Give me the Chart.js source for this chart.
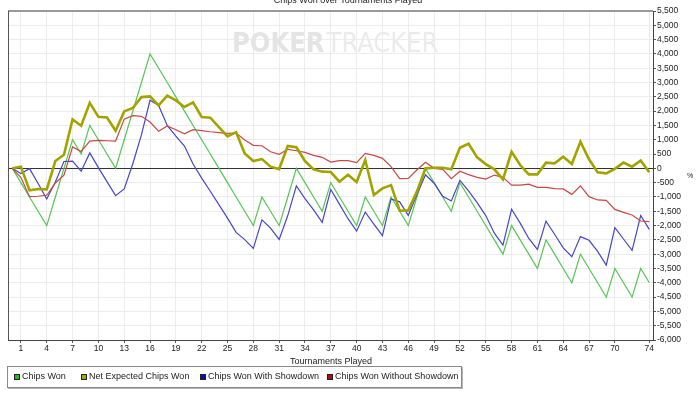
<!DOCTYPE html>
<html>
<head>
<meta charset="utf-8">
<script src="https://cdn.jsdelivr.net/npm/chart.js@4.4.1/dist/chart.umd.min.js"></script>
<style>
  body { margin: 0; background: #fff; }
  #wrap { position: relative; width: 700px; height: 393px; overflow: hidden; }
  #legend {
    position: absolute; left: 7px; top: 366px; width: 453px; height: 20px;
    border: 1px solid #8a8a8a; box-shadow: 1px 1px 0 #b5b5b5;
    font-family: "Liberation Sans", Arial, sans-serif;
    font-size: 9px; color: #222;
  }
  #legend .sw { position: absolute; top: 7px; width: 4px; height: 4px; border: 1px solid #222; }
  #legend .txt { position: absolute; top: 4px; white-space: nowrap; line-height: 11px; }
</style>
</head>
<body>
<div id="wrap">
  <canvas id="chart" width="700" height="393"></canvas>
  <div id="legend"></div>
</div>
<script>
// tournaments played (0 = start)
const tournaments = [0, 1, 2, 3, 4, 5, 6, 7, 8, 9, 10, 11, 12, 13, 14, 15, 16, 17, 18, 19,
  20, 21, 22, 23, 24, 25, 26, 27, 28, 29, 30, 31, 32, 33, 34, 35, 36, 37, 38, 39,
  40, 41, 42, 43, 44, 45, 46, 47, 48, 49, 50, 51, 52, 53, 54, 55, 56, 57, 58, 59,
  60, 61, 62, 63, 64, 65, 66, 67, 68, 69, 70, 71, 72, 73, 74];
const xTickValues = [1, 4, 7, 10, 13, 16, 19, 22, 25, 28, 31, 34, 37, 40, 43, 46, 49, 52, 55, 58, 61, 64, 67, 70, 74];

const chipsWon = [0, -500, -1000, -1500, -2000, -1000, 0, 1000, 500, 1500,
  1000, 500, 0, 1000, 2000, 3000, 4000, 3500, 3000, 2500,
  2000, 1500, 1000, 500, 0, -500, -1000, -1500, -2000, -1000,
  -1500, -2000, -1000, 0, -500, -1000, -1500, -500, -1000, -1500,
  -2000, -1000, -1500, -2000, -1000, -1500, -2000, -1000, 0, -500,
  -1000, -1500, -500, -1000, -1500, -2000, -2500, -3000, -2000, -2500,
  -3000, -3500, -2500, -3000, -3500, -4000, -3000, -3500, -4000, -4500,
  -3500, -4000, -4500, -3500, -4000];

const netExpected = [0, 60, -770, -720, -735, 255, 475, 1710, 1490, 2290,
  1800, 1780, 1315, 1990, 2110, 2490, 2515, 2200, 2540, 2375,
  2145, 2305, 1795, 1770, 1445, 1120, 1265, 520, 255, 325,
  60, -25, 780, 735, 255, -35, -115, -130, -465, -225,
  -480, 290, -930, -700, -585, -1480, -1470, -815, 0, 20,
  20, -35, 720, 860, 385, 150, -35, -385, 580, 115,
  -210, -210, 200, 175, 405, 150, 930, 315, -140, -175,
  -20, 200, 60, 270, -140];

const withShowdown = [0, -180, -10, -530, -1070, -480, 240, 250, -100, 540,
  25, -465, -955, -720, 160, 1170, 2380, 2200, 1500, 1130,
  780, 150, -340, -800, -1270, -1740, -2240, -2490, -2800, -1800,
  -2090, -2485, -1650, -615, -1055, -1455, -1890, -740, -1250, -1760,
  -2195, -1530, -1950, -2355, -1070, -1170, -1645, -920, -225, -520,
  -980, -1140, -420, -790, -1200, -1650, -2265, -2685, -1430, -1915,
  -2450, -2835, -1845, -2305, -2780, -3090, -2385, -2515, -2900, -3385,
  -2070, -2470, -2870, -1650, -2135];

const withoutShowdown = [0, -320, -990, -975, -940, -510, -240, 750, 590, 950,
  975, 965, 955, 1720, 1840, 1820, 1620, 1300, 1480, 1350,
  1210, 1350, 1320, 1280, 1250, 1225, 1235, 990, 805, 790,
  580, 490, 665, 615, 560, 455, 385, 220, 270, 270,
  200, 525, 455, 350, 60, -360, -350, -60, 210, 0,
  -35, -360, -100, -220, -315, -375, -235, -315, -585, -585,
  -550, -665, -665, -710, -720, -910, -615, -990, -1105, -1120,
  -1435, -1540, -1630, -1840, -1865];

const seriesNames = ["Chips Won", "Net Expected Chips Won", "Chips Won With Showdown", "Chips Won Without Showdown"];
const lineColors = ["#55c655", "#a3a300", "#4646c8", "#c84848"];
const swatchColors = ["#1fbf1f", "#a6a600", "#0c0cb4", "#b40c0c"];
const legendSwatchLeft = [6, 73, 192, 319];

function points(values) {
  return tournaments.map((t, i) => ({ x: t, y: values[i] }));
}

const font = "'Liberation Sans', Arial, sans-serif";

const extras = {
  id: "extras",
  beforeDatasetsDraw(chart) {
    const ctx = chart.ctx;
    ctx.save();
    ctx.fillStyle = "#e4e4e4";
    ctx.textBaseline = "alphabetic";
    ctx.font = "bold 27px 'DejaVu Sans Condensed', sans-serif";
    ctx.fillText("POKER", 232, 52);
    const w = ctx.measureText("POKER").width;
    ctx.fillStyle = "#ebebeb";
    ctx.font = "27px 'DejaVu Sans Condensed', sans-serif";
    ctx.fillText("TRACKER", 232 + w + 2, 52);
    ctx.restore();
  },
  afterDraw(chart) {
    const ctx = chart.ctx;
    const a = chart.chartArea;
    ctx.save();
    // frame: gray top, dark left
    ctx.strokeStyle = "#999";
    ctx.lineWidth = 2;
    ctx.beginPath();
    ctx.moveTo(a.left, a.top);
    ctx.lineTo(a.right, a.top);
    ctx.stroke();
    ctx.strokeStyle = "#555";
    ctx.lineWidth = 1;
    ctx.beginPath();
    ctx.moveTo(a.left + 0.5, a.top);
    ctx.lineTo(a.left + 0.5, a.bottom);
    ctx.stroke();

    ctx.fillStyle = "#222";
    ctx.textAlign = "center";
    ctx.font = "9px " + font;
    ctx.fillText("Chips Won over Tournaments Played", 348, 3);
    ctx.fillText("Tournaments Played", 331, 364);
    ctx.font = "7px " + font;
    ctx.fillText("%", 690, 178);
    ctx.restore();
  }
};

new Chart(document.getElementById("chart"), {
  type: "line",
  data: {
    datasets: [
      { label: seriesNames[1], data: points(netExpected), borderColor: lineColors[1], borderWidth: 2.6, order: 0 },
      { label: seriesNames[3], data: points(withoutShowdown), borderColor: lineColors[3], borderWidth: 1.2, order: 1 },
      { label: seriesNames[2], data: points(withShowdown), borderColor: lineColors[2], borderWidth: 1.2, order: 2 },
      { label: seriesNames[0], data: points(chipsWon), borderColor: lineColors[0], borderWidth: 1.2, order: 3 }
    ]
  },
  options: {
    responsive: false,
    animation: false,
    devicePixelRatio: 1,
    layout: { padding: { left: 8, top: 11, right: 0, bottom: 0 } },
    elements: { point: { radius: 0 }, line: { tension: 0 } },
    plugins: { legend: { display: false }, tooltip: { enabled: false } },
    scales: {
      x: {
        type: "linear",
        min: -0.5,
        max: 74.43,
        afterBuildTicks: (s) => { s.ticks = xTickValues.map((v) => ({ value: v })); },
        afterFit: (s) => { s.height = 53; },
        ticks: { autoSkip: false, maxRotation: 0, padding: 1, color: "#222", font: { family: font, size: 8.5 } },
        grid: { color: "#ececec", tickLength: 3, tickColor: "#555" },
        border: { color: "#444" }
      },
      y: {
        position: "right",
        min: -6000,
        max: 5500,
        afterFit: (s) => { s.width = 47; },
        ticks: {
          stepSize: 500,
          autoSkip: false,
          padding: 1,
          color: "#222",
          font: { family: font, size: 8.5 },
          callback: (v) => v.toLocaleString("en-US")
        },
        grid: {
          color: (c) => (c.tick && c.tick.value === 0 ? "#333" : "#ececec"),
          tickLength: 3,
          tickColor: "#555"
        },
        border: { color: "#444" }
      }
    }
  },
  plugins: [extras]
});

const legend = document.getElementById("legend");
seriesNames.forEach((name, i) => {
  const sw = document.createElement("span");
  sw.className = "sw";
  sw.style.left = legendSwatchLeft[i] + "px";
  sw.style.background = swatchColors[i];
  legend.appendChild(sw);
  const txt = document.createElement("span");
  txt.className = "txt";
  txt.style.left = (legendSwatchLeft[i] + 8) + "px";
  txt.textContent = name;
  legend.appendChild(txt);
});
</script>
</body>
</html>
